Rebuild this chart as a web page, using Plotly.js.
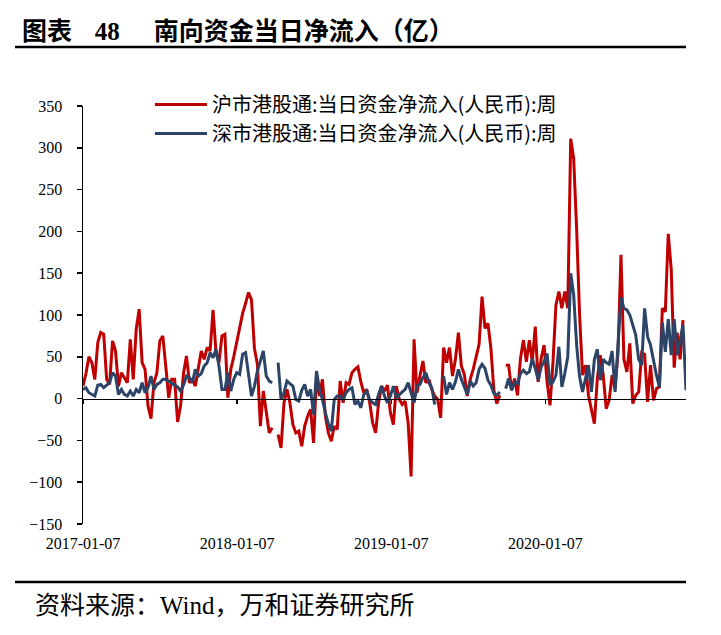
<!DOCTYPE html>
<html>
<head>
<meta charset="utf-8">
<script src="https://cdn.plot.ly/plotly-3.0.1.min.js"></script>
<style>
  html, body { margin: 0; padding: 0; background: #fff; }
  #chart { width: 721px; height: 635px; }
</style>
</head>
<body>
<div id="chart"></div>
<script>
// weekly series, first week 2017-01-07
const startDate = '2017-01-07';

// 沪市港股通 (亿元)
const shValues = [
  15, 30, 50, 43, 23, 67, 79, 77, 23, 17,
  69, 57, 15, 31, 25, 19, 71, 23, 83, 107,
  43, 35, -9, -24, 19, 31, 69, 75, 39, 1,
  23, 23, -28, -9, 30, 51, 19, 23, 15, 35,
  57, 47, 61, 57, 106, 55, 43, 75, 77, 1,
  35, 50, 67, 87, 102, 114, 127, 118, 60, 41,
  -33, 9, -17, -41, -35, null, -43, -59, -5, 11,
  -5, -31, -41, -39, -57, -33, -21, -13, -53, 27,
  3, 23, -21, -41, -51, -33, -37, 21, -5, 19,
  17, 31, 35, 38, 20, 7, 11, -5, -29, -41,
  -5, 15, 9, 16, -17, -31, 15, -1, -7, -3,
  -29, -93, 71, 7, 27, 45, 19, 23, 11, 3,
  -1, -23, 61, 43, 61, 27, 47, 79, 39, 29,
  3, 23, 35, 51, 65, 122, 84, 90, 60, 10,
  -6, 4, null, 40, 40, 10, 24, 4, 48, 70,
  44, 70, 44, 86, 20, 48, 64, 20, -8, 44,
  112, 128, 108, 128, 108, 311, 287, 203, 100, 28,
  40, 4, -12, -30, 24, 52, 28, -12, -2, 28,
  12, 55, 172, 47, 32, 66, -6, 4, 8, 55,
  53, -4, 40, -2, 12, 14, 108, 104, 197, 155,
  37, 79, 47, 94, null
];

// 深市港股通 (亿元)
const szValues = [
  11, 13, 7, 5, 3, 16, 17, 13, 16, 19,
  31, 27, 5, 11, 5, 3, 9, 3, 11, 7,
  19, 7, 13, 27, 11, 17, 19, 23, 23, 21,
  19, 16, 14, 9, 16, 27, 25, 19, 35, 27,
  30, 39, 43, 55, 49, 59, 39, 11, 11, 31,
  9, 23, 31, 29, 53, 55, 31, 3, 15, 33,
  45, 57, 27, 21, 19, null, 43, -1, 7, 21,
  18, 15, -1, -3, 10, 17, 3, 11, -19, 33,
  11, -1, -17, -30, -39, -1, 3, 3, -1, 7,
  11, 13, -7, -3, -11, 5, 9, -1, -5, -7,
  5, 15, 3, -5, 3, 15, 1, 5, 8, 11,
  19, 7, -5, 15, 17, 25, 31, 19, 13, -7,
  null, null, 27, 5, 19, 11, 20, 35, 23, 15,
  5, 21, 15, 19, 35, 41, 36, 22, 16, 6,
  4, 8, null, 12, 24, 10, 20, 18, 30, 34,
  30, 32, 48, 36, 22, 38, 44, 54, 16, 20,
  28, 62, 14, 30, 50, 150, 124, 64, 26, 8,
  24, 40, 8, 47, 59, 22, 47, 43, 41, 57,
  8, 66, 121, 108, 106, 100, 88, 76, 47, 40,
  108, 74, 64, 45, 28, 14, 91, 56, 95, 52,
  95, 52, 71, 88, 10
];

const seriesNames = [
  '沪市港股通:当日资金净流入(人民币):周',
  '深市港股通:当日资金净流入(人民币):周'
];
const tickDates = ['2017-01-07', '2018-01-07', '2019-01-07', '2020-01-07'];
const tickLabels = ['2017-01-07', '2018-01-07', '2019-01-07', '2020-01-07'];
const yTicks = [-150, -100, -50, 0, 50, 100, 150, 200, 250, 300, 350];

const serif = '"Liberation Serif", "Times New Roman", serif';
const cjk = '"Noto Sans CJK SC", "Liberation Serif", sans-serif';

const titleText = '<b>图表&#160;&#160;&#160;&#160;<span style="font-family:Liberation Serif">48</span>' +
  '&#160;&#160;&#160;&#160;&#160;&#160;南向资金当日净流入（亿）</b>';
const sourceText = '资料来源：<span style="font-family:Liberation Serif">Wind</span>，万和证券研究所';

// build the weekly dates
const dates = [];
const t0 = Date.parse(startDate + 'T00:00:00Z');
for (let i = 0; i < shValues.length; i++) {
  dates.push(new Date(t0 + i * 7 * 86400000).toISOString().slice(0, 10));
}
const xRange = [dates[0], dates[dates.length - 1]];

const traces = [
  {
    x: dates, y: shValues, name: seriesNames[0],
    mode: 'lines', line: { color: '#C00000', width: 3 }
  },
  {
    x: dates, y: szValues, name: seriesNames[1],
    mode: 'lines', line: { color: '#2B4468', width: 3 }
  },
  // carrier for the label axis
  { x: [dates[0]], y: [null], xaxis: 'x2', showlegend: false, hoverinfo: 'skip' }
];

const layout = {
  width: 721,
  height: 635,
  margin: { l: 83, r: 35, t: 106, b: 111 },
  paper_bgcolor: '#fff',
  plot_bgcolor: '#fff',
  showlegend: true,
  title: {
    text: titleText,
    xref: 'container', yref: 'container',
    x: 22 / 721, xanchor: 'left',
    y: 1 - 31 / 635, yanchor: 'middle',
    font: { family: cjk, size: 25, color: '#000' }
  },
  legend: {
    x: 0.111, y: 1.05, xanchor: 'left', yanchor: 'top',
    bgcolor: 'rgba(0,0,0,0)',
    font: { family: cjk, size: 20, color: '#000' },
    itemwidth: 52,
    tracegroupgap: 0
  },
  // axis line at zero with the year ticks
  xaxis: {
    type: 'date',
    range: xRange,
    anchor: 'free', position: 0.3,
    showline: true, linecolor: '#000', linewidth: 1.5,
    ticks: 'outside', ticklen: 4, tickwidth: 1.5, tickcolor: '#000',
    tickmode: 'array', tickvals: tickDates,
    showticklabels: false,
    showgrid: false, zeroline: false
  },
  // tick labels along the bottom
  xaxis2: {
    type: 'date',
    range: xRange,
    overlaying: 'x', anchor: 'y', side: 'bottom',
    showline: false, ticks: '',
    tickmode: 'array', tickvals: tickDates, ticktext: tickLabels,
    ticklabelstandoff: 8,
    tickfont: { family: serif, size: 16, color: '#000' },
    showgrid: false, zeroline: false
  },
  yaxis: {
    range: [-150, 350],
    tickmode: 'array', tickvals: yTicks,
    showline: true, linecolor: '#000', linewidth: 1.5,
    ticks: 'outside', ticklen: 5, tickwidth: 1.5, tickcolor: '#000',
    ticklabelstandoff: 11,
    tickfont: { family: serif, size: 16, color: '#000' },
    showgrid: false, zeroline: false
  },
  shapes: [
    { type: 'line', xref: 'paper', yref: 'paper',
      x0: (15 - 83) / 603, x1: 1, y0: (524 - 47) / 418, y1: (524 - 47) / 418,
      line: { color: '#000', width: 2.5 } },
    { type: 'line', xref: 'paper', yref: 'paper',
      x0: (15 - 83) / 603, x1: 1, y0: (524 - 582) / 418, y1: (524 - 582) / 418,
      line: { color: '#000', width: 2.5 } }
  ],
  annotations: [
    { text: sourceText, showarrow: false,
      xref: 'paper', yref: 'paper',
      x: (33 - 83) / 603, xanchor: 'left',
      y: (524 - 603) / 418, yanchor: 'middle',
      font: { family: cjk, size: 25, color: '#000' } }
  ]
};

Plotly.newPlot('chart', traces, layout, { displayModeBar: false, staticPlot: true });
</script>
</body>
</html>
